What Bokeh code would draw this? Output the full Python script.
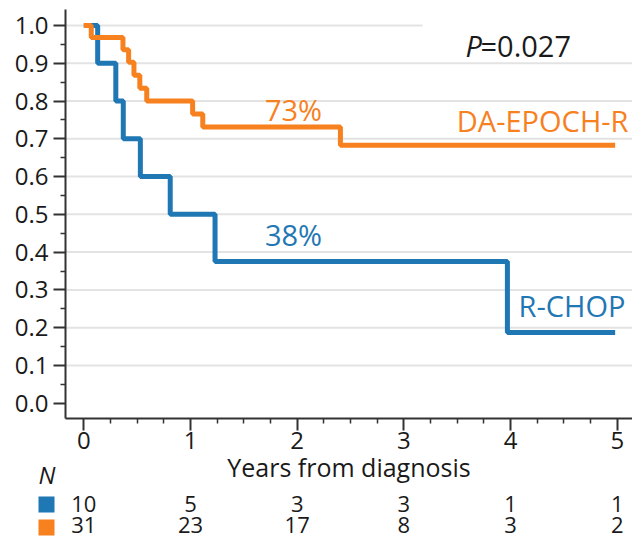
from bokeh.plotting import figure
from bokeh.models import (Range1d, LinearAxis, FixedTicker, PrintfTickFormatter,
                          ColumnDataSource, Label, LabelSet)
from bokeh.core.properties import value
from bokeh.embed import file_html
from bokeh.resources import INLINE

# ---------------- data ----------------
rchop_t = [0.0, 0.13, 0.30, 0.37, 0.53, 0.81, 1.23, 3.97, 4.98]
rchop_s = [1.0, 0.90, 0.80, 0.70, 0.60, 0.50, 0.375, 0.1875, 0.1875]

epoch_t = [0.0, 0.07, 0.367, 0.42, 0.47, 0.525, 0.59, 1.02, 1.115, 2.405, 4.98]
epoch_s = [1.0, 0.968, 0.936, 0.903, 0.868, 0.834, 0.800, 0.766, 0.731, 0.683, 0.683]

x_ticks = [0, 1, 2, 3, 4, 5]
y_ticks = [0.0, 0.1, 0.2, 0.3, 0.4, 0.5, 0.6, 0.7, 0.8, 0.9, 1.0]
y_tick_labels = ["0.0", "0.1", "0.2", "0.3", "0.4", "0.5", "0.6", "0.7", "0.8", "0.9", "1.0"]

risk_times = [0, 1, 2, 3, 4, 5]
risk_rchop = [10, 5, 3, 3, 1, 1]
risk_epoch = [31, 23, 17, 8, 3, 2]

BLUE = "#1f77b4"
ORANGE = "#f7801f"
FONT = "Open Sans"
TXT = "#1a1a1a"

# ---------------- geometry (px -> data) ----------------
W, H = 632, 539
X0PX, XSC = 83.3, 106.7      # x=0 pixel, pixels per year
Y0PX, YSC = 402.7, 377.7     # y=0 pixel, pixels per unit

def dx(px):
    return (px - X0PX) / XSC

def dy(py):
    return (Y0PX - py) / YSC

x_start, x_end = dx(0), dx(W)
y_start, y_end = dy(H), dy(0)
yaxis_x = dx(65)
xaxis_y = dy(418.3)

p = figure(width=W, height=H, x_range=Range1d(x_start, x_end), y_range=Range1d(y_start, y_end),
           x_axis_location=None, y_axis_location=None, min_border=0,
           output_backend="svg", toolbar_location=None)
p.outline_line_color = None
p.background_fill_color = "white"
for g in p.grid:
    g.visible = False

# grid lines (0.1 .. 1.0); the 1.0 line stops before the P-value text
gy = [v for v in y_ticks if v > 0]
gx1 = [dx(422) if v >= 1.0 else x_end for v in gy]
p.segment(x0=[yaxis_x] * len(gy), y0=gy, x1=gx1, y1=gy, line_color="#e3e3e3", line_width=2)

# axes
xaxis = LinearAxis(fixed_location=xaxis_y, bounds=(yaxis_x, x_end),
                   ticker=FixedTicker(ticks=x_ticks,
                                      minor_ticks=[i * 0.25 for i in range(21) if i % 4]),
                   axis_label="Years from diagnosis")
yaxis = LinearAxis(fixed_location=yaxis_x, bounds=(xaxis_y, dy(9)),
                   ticker=FixedTicker(ticks=y_ticks,
                                      minor_ticks=[0.05 + 0.1 * i for i in range(10)]),
                   formatter=PrintfTickFormatter(format="%.1f"))
for ax in (xaxis, yaxis):
    ax.axis_line_color = "#333333"
    ax.axis_line_width = 2
    ax.major_tick_line_color = "#333333"
    ax.major_tick_line_width = 2
    ax.minor_tick_line_color = "#333333"
    ax.minor_tick_line_width = 1.5
    ax.major_tick_in = 0
    ax.major_tick_out = 12
    ax.minor_tick_in = 0
    ax.minor_tick_out = 5
    ax.major_label_text_font = FONT
    ax.major_label_text_font_size = "24px"
    ax.major_label_text_color = TXT
    ax.axis_label_text_font = FONT
    ax.axis_label_text_font_size = "25px"
    ax.axis_label_text_font_style = "normal"
    ax.axis_label_text_color = TXT
xaxis.major_label_standoff = 1
xaxis.axis_label_standoff = -2
yaxis.major_label_standoff = 5
p.add_layout(xaxis, "below")
p.add_layout(yaxis, "left")

# survival curves
p.step(rchop_t, rchop_s, mode="after", line_color=BLUE, line_width=5)
p.step(epoch_t, epoch_s, mode="after", line_color=ORANGE, line_width=5)

# annotations (y given as the text's visual middle)
def lab(x, y, text, color, size="29px", align="left", style="normal"):
    p.add_layout(Label(x=x, y=y, text=text, text_color=color, text_font=FONT,
                       text_font_size=size, text_align=align, text_baseline="middle",
                       text_font_style=style))

lab(dx(293), dy(109), "73%", ORANGE, align="center")
lab(dx(293), dy(234), "38%", BLUE, align="center")
lab(dx(628), dy(120), "DA-EPOCH-R", ORANGE, align="right")
lab(dx(625), dy(305), "R-CHOP", BLUE, align="right")
lab(dx(465), dy(45), "P", TXT, style="italic")
lab(dx(480), dy(45), "=0.027", TXT)

# number-at-risk table
row1_py, row2_py = 503, 524
lab(dx(38), dy(474), "N", TXT, size="24px", style="italic")
p.scatter(x=[dx(46)] * 2, y=[dy(row1_py + 1), dy(row2_py + 3)], marker="square", size=16,
          fill_color=[BLUE, ORANGE], line_color=None)
src = ColumnDataSource(dict(t=risk_times * 2,
                            y=[dy(row1_py)] * len(risk_times) + [dy(row2_py)] * len(risk_times),
                            n=[str(v) for v in risk_rchop + risk_epoch]))
p.add_layout(LabelSet(x="t", y="y", text="n", source=src, text_align="center",
                      text_baseline="middle", text_font=value(FONT),
                      text_font_size=value("22px"), text_color=value(TXT)))

open("out.html", "w").write(file_html(p, INLINE))
